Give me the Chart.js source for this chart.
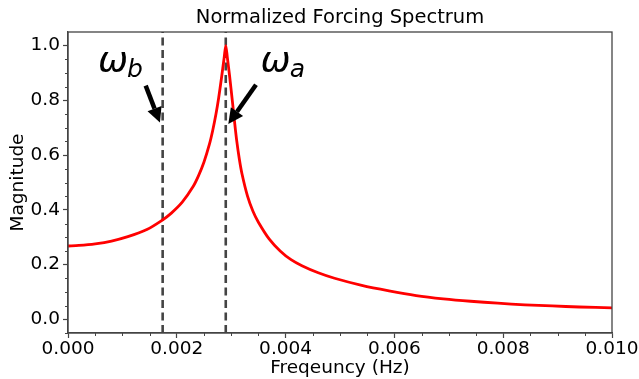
<!DOCTYPE html>
<html>
<head>
<meta charset="utf-8">
<script src="https://cdn.jsdelivr.net/npm/chart.js@4/dist/chart.umd.min.js"></script>
<style>
html,body{margin:0;padding:0;background:#fff;}
#wrap{width:639px;height:379px;position:relative;}
</style>
</head>
<body>
<div id="wrap"><canvas id="c" width="639" height="379"></canvas></div>
<script>
// ---- data ----
const freq = [0, 0.0002, 0.0005, 0.0008, 0.0011, 0.00145, 0.00173, 0.0019, 0.0021, 0.0023, 0.0024, 0.0025, 0.0026, 0.00266, 0.00272, 0.00277, 0.00282, 0.00287, 0.0029,
              0.00293, 0.00297, 0.00302, 0.00306, 0.0031, 0.00315, 0.0032, 0.0033, 0.0034, 0.0035, 0.0037, 0.0039, 0.0041, 0.0043, 0.0046, 0.0049,
              0.0054, 0.0059, 0.0064, 0.0069, 0.0074, 0.0079, 0.0084, 0.0089, 0.0094, 0.01];
const magnitude = [0.268, 0.270, 0.276, 0.286, 0.302, 0.328, 0.362, 0.388, 0.428, 0.485, 0.525, 0.575, 0.64, 0.69, 0.75, 0.81, 0.88, 0.955, 1.0,
                   0.955, 0.89, 0.80, 0.725, 0.655, 0.585, 0.53, 0.45, 0.395, 0.355, 0.293, 0.25, 0.218, 0.196, 0.170, 0.150,
                   0.124, 0.104, 0.087, 0.075, 0.066, 0.059, 0.053, 0.049, 0.045, 0.042];
const markerFreqs = [0.00174, 0.0029];          // dashed vertical lines (omega_b, omega_a)
const markerNames = ['b', 'a'];
const labelPos = [[0.00055, 0.905], [0.00354, 0.905]];   // ω label anchors (data coords, left/baseline)
const arrowTail = [[0.001428, 0.854], [0.003456, 0.857]];
const arrowHead = [[0.00169, 0.719], [0.002947, 0.714]];
const chartTitle = 'Normalized Forcing Spectrum';
const xTicks = [0, 0.002, 0.004, 0.006, 0.008, 0.010];
const xTickLabels = ['0.000', '0.002', '0.004', '0.006', '0.008', '0.010'];
const yTicks = [0, 0.2, 0.4, 0.6, 0.8, 1.0];
const yTickLabels = ['0.0', '0.2', '0.4', '0.6', '0.8', '1.0'];
const xMinor = [0.0005, 0.001, 0.0015, 0.0025, 0.003, 0.0035, 0.0045, 0.005, 0.0055, 0.0065, 0.007, 0.0075, 0.0085, 0.009, 0.0095];
const yMinor = [-0.05, 0.05, 0.1, 0.15, 0.25, 0.3, 0.35, 0.45, 0.5, 0.55, 0.65, 0.7, 0.75, 0.85, 0.9, 0.95];
const yRange = [-0.05, 1.05];
const xRange = [0, 0.01];

const FONT = "'DejaVu Sans', sans-serif";
const curve = freq.map((f, i) => ({x: f, y: magnitude[i]}));
const vlines = markerFreqs.map(f => ({
  data: [{x: f, y: yRange[0]}, {x: f, y: yRange[1]}],
  borderColor: '#444444', borderWidth: 2.6, borderDash: [8, 4.5], pointRadius: 0, fill: false, tension: 0
}));

const decor = {
  id: 'decor',
  afterDraw(chart) {
    const ctx = chart.ctx, a = chart.chartArea;
    const xs = chart.scales.x, ys = chart.scales.y;
    ctx.save();
    // title centred on the plot area
    ctx.fillStyle = '#000'; ctx.font = "19.5px " + FONT;
    ctx.textAlign = 'center'; ctx.textBaseline = 'middle';
    ctx.fillText(chartTitle, (a.left + a.right) / 2, 18);
    // frame
    ctx.strokeStyle = '#444'; ctx.lineWidth = 1.3;
    ctx.strokeRect(a.left, a.top, a.right - a.left, a.bottom - a.top);
    // minor ticks
    ctx.beginPath();
    xMinor.forEach(v => { const p = Math.round(xs.getPixelForValue(v)) + 0.5; ctx.moveTo(p, a.bottom); ctx.lineTo(p, a.bottom + 3); });
    yMinor.forEach(v => { const p = Math.round(ys.getPixelForValue(v)) + 0.5; ctx.moveTo(a.left, p); ctx.lineTo(a.left - 3, p); });
    ctx.lineWidth = 1; ctx.stroke();
    // arrows
    ctx.fillStyle = '#000'; ctx.strokeStyle = '#000';
    arrowTail.forEach((t, i) => {
      const x0 = xs.getPixelForValue(t[0]), y0 = ys.getPixelForValue(t[1]);
      const x1 = xs.getPixelForValue(arrowHead[i][0]), y1 = ys.getPixelForValue(arrowHead[i][1]);
      const ang = Math.atan2(y1 - y0, x1 - x0);
      const hl = 15, hw = 7.5;
      const bx = x1 - hl * Math.cos(ang), by = y1 - hl * Math.sin(ang);
      ctx.lineWidth = 4.5; ctx.lineCap = 'butt';
      ctx.beginPath(); ctx.moveTo(x0, y0); ctx.lineTo(bx, by); ctx.stroke();
      ctx.beginPath();
      ctx.moveTo(x1, y1);
      ctx.lineTo(bx + hw * Math.sin(ang), by - hw * Math.cos(ang));
      ctx.lineTo(bx - hw * Math.sin(ang), by + hw * Math.cos(ang));
      ctx.closePath(); ctx.fill();
    });
    // omega labels
    ctx.textBaseline = 'alphabetic'; ctx.textAlign = 'left';
    labelPos.forEach((p, i) => {
      const x = xs.getPixelForValue(p[0]), y = ys.getPixelForValue(p[1]);
      ctx.font = "italic 36px " + FONT;
      ctx.fillText('ω', x, y);
      const w = ctx.measureText('ω').width;
      ctx.font = "italic 25px " + FONT;
      ctx.fillText(markerNames[i], x + w - 1, y + 5);
    });
    ctx.restore();
  }
};

new Chart(document.getElementById('c'), {
  type: 'line',
  data: {
    datasets: [
      {data: curve, borderColor: '#ff0000', borderWidth: 2.8, pointRadius: 0, fill: false, tension: 0.3},
      ...vlines
    ]
  },
  options: {
    responsive: false, animation: false, devicePixelRatio: 1,
    layout: {padding: {left: 0, right: 27, top: 32, bottom: 0}},
    plugins: {legend: {display: false}, tooltip: {enabled: false}, title: {display: false}},
    scales: {
      x: {
        type: 'linear', min: xRange[0], max: xRange[1],
        afterBuildTicks: s => { s.ticks = xTicks.map(v => ({value: v})); },
        afterFit: s => { s.height = 46; },
        ticks: {color: '#000', font: {family: FONT, size: 18.5}, padding: 0, maxRotation: 0, autoSkip: false,
                callback: (v, i) => xTickLabels[i]},
        grid: {drawOnChartArea: false, tickLength: 5, tickColor: '#444', tickWidth: 1.2},
        border: {color: '#444', width: 1.3},
        title: {display: true, text: 'Freqeuncy (Hz)', color: '#000', font: {family: FONT, size: 18.5}, padding: {top: 0, bottom: 0}}
      },
      y: {
        type: 'linear', min: yRange[0], max: yRange[1],
        afterBuildTicks: s => { s.ticks = yTicks.map(v => ({value: v})); },
        afterFit: s => { s.width = 68; },
        ticks: {color: '#000', font: {family: FONT, size: 18.5}, padding: 3, autoSkip: false,
                callback: (v, i) => yTickLabels[i]},
        grid: {drawOnChartArea: false, tickLength: 5, tickColor: '#444', tickWidth: 1.2},
        border: {color: '#444', width: 1.3},
        title: {display: true, text: 'Magnitude', color: '#000', font: {family: FONT, size: 18.5}, padding: {top: 7, bottom: 0}}
      }
    }
  },
  plugins: [decor]
});
</script>
</body>
</html>
